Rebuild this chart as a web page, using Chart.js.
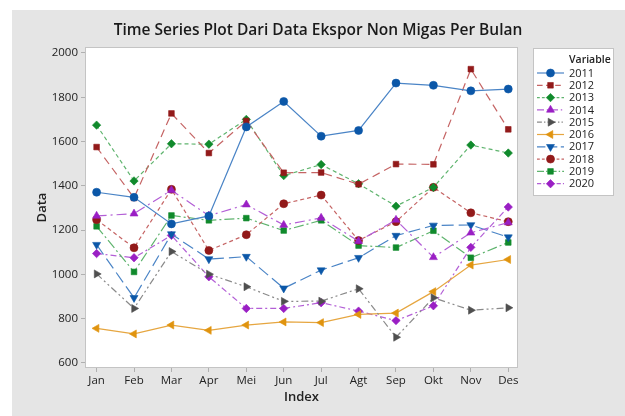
<!DOCTYPE html>
<html>
<head>
<meta charset="utf-8">
<script src="https://cdn.jsdelivr.net/npm/chart.js@4"></script>
<style>
html,body{margin:0;padding:0;background:#ffffff;}
#wrap{position:absolute;left:0;top:0;width:625px;height:416px;}
</style>
</head>
<body>
<div id="wrap"><canvas id="c" width="625" height="416"></canvas></div>
<script>
const months = ['Jan','Feb','Mar','Apr','Mei','Jun','Jul','Agt','Sep','Okt','Nov','Des'];
const yTicks = [600, 800, 1000, 1200, 1400, 1600, 1800, 2000];
const seriesNames = ['2011','2012','2013','2014','2015','2016','2017','2018','2019','2020'];
const titleText = 'Time Series Plot Dari Data Ekspor Non Migas Per Bulan';

const v2011 = [1371, 1348, 1228, 1264, 1666, 1781, 1624, 1650, 1864, 1854, 1829, 1837];
const v2012 = [1575, 1345, 1727, 1548, 1693, 1459, 1460, 1407, 1498, 1497, 1927, 1655];
const v2013 = [1674, 1422, 1590, 1588, 1700, 1446, 1496, 1409, 1308, 1393, 1584, 1548];
const v2014 = [1264, 1274, 1380, 1265, 1315, 1223, 1255, 1150, 1246, 1077, 1188, 1234];
const v2015 = [1002, 846, 1103, 1001, 944, 878, 879, 935, 716, 894, 838, 849];
const v2016 = [756, 731, 771, 747, 771, 785, 782, 819, 825, 922, 1042, 1067];
const v2017 = [1134, 894, 1182, 1069, 1080, 937, 1019, 1075, 1175, 1221, 1223, 1168];
const v2018 = [1247, 1120, 1384, 1108, 1179, 1319, 1358, 1153, 1238, 1393, 1278, 1238];
const v2019 = [1217, 1011, 1266, 1244, 1254, 1198, 1244, 1130, 1121, 1197, 1075, 1144];
const v2020 = [1094, 1075, 1176, 989, 846, 846, 872, 834, 791, 858, 1122, 1304];

const allValues = [v2011, v2012, v2013, v2014, v2015, v2016, v2017, v2018, v2019, v2020];

const styles = [
  {c:'#0b57a8', l:'#4a84c6', ps:'circle', rot:0, r:4, dash:[]},
  {c:'#921a1a', l:'#c56464', ps:'rect', rot:0, r:4, dash:[8,5]},
  {c:'#108a2c', l:'#5fb46e', ps:'rectRot', rot:0, r:4.2, dash:[4,3]},
  {c:'#9a1fc4', l:'#b35fd6', ps:'triangle', rot:0, r:4.6, dash:[10,4,2,4]},
  {c:'#4f4f4f', l:'#8a8a8a', ps:'triangle', rot:90, r:4.6, dash:[7,3,2,3,2,3]},
  {c:'#e0940f', l:'#e6a640', ps:'triangle', rot:-90, r:4.6, dash:[]},
  {c:'#0b57a8', l:'#4a84c6', ps:'triangle', rot:180, r:4.6, dash:[12,5]},
  {c:'#921a1a', l:'#c56464', ps:'circle', rot:0, r:4, dash:[4,3]},
  {c:'#108a2c', l:'#5fb46e', ps:'rect', rot:0, r:4, dash:[10,3,2,3]},
  {c:'#9a1fc4', l:'#b35fd6', ps:'rectRot', rot:0, r:4.2, dash:[6,3,2,3]}
];

const datasets = seriesNames.map((name, i) => ({
  label: name,
  data: allValues[i].map((v, k) => ({x: k, y: v})),
  borderColor: styles[i].l,
  backgroundColor: styles[i].c,
  borderWidth: 1.2,
  borderDash: styles[i].dash,
  pointStyle: styles[i].ps,
  pointRotation: styles[i].rot,
  pointRadius: styles[i].r,
  pointBorderWidth: 0.6,
  pointBorderColor: styles[i].c,
  pointBackgroundColor: styles[i].c,
  tension: 0,
  fill: false
}));

const bgPlugin = {
  id: 'bg',
  beforeDraw(chart) {
    const ctx = chart.ctx, a = chart.chartArea;
    ctx.save();
    ctx.fillStyle = '#ffffff';
    ctx.fillRect(0, 0, chart.width, chart.height);
    ctx.fillStyle = '#e5e5e5';
    ctx.fillRect(12, 10, chart.width - 12, chart.height - 10);
    ctx.fillStyle = '#ffffff';
    ctx.fillRect(a.left, a.top, a.right - a.left, a.bottom - a.top);
    ctx.fillStyle = '#1a1a1a';
    ctx.font = '600 15.5px "Open Sans", sans-serif';
    ctx.textAlign = 'center';
    ctx.textBaseline = 'middle';
    ctx.fillText(titleText, 318, 31);
    ctx.restore();
  },
  afterDatasetsDraw(chart) {
    const ctx = chart.ctx, a = chart.chartArea;
    ctx.save();
    ctx.strokeStyle = '#c4c4c4';
    ctx.lineWidth = 1;
    ctx.strokeRect(a.left + 0.5, a.top + 0.5, a.right - a.left - 1, a.bottom - a.top - 1);
    ctx.restore();
  }
};

const legendPlugin = {
  id: 'customLegend',
  afterDraw(chart) {
    const ctx = chart.ctx;
    const x0 = 533, y0 = 48, w = 81, h = 148;
    ctx.save();
    ctx.fillStyle = '#ffffff';
    ctx.fillRect(x0, y0, w, h);
    ctx.strokeStyle = '#c4c4c4';
    ctx.lineWidth = 1;
    ctx.strokeRect(x0 + 0.5, y0 + 0.5, w - 1, h - 1);
    ctx.fillStyle = '#222222';
    ctx.font = '600 10.5px "Open Sans", sans-serif';
    ctx.textBaseline = 'middle';
    ctx.textAlign = 'left';
    ctx.fillText('Variable', 569, 60);
    ctx.font = '11px "Open Sans", sans-serif';
    seriesNames.forEach((name, i) => {
      const y = 73 + i * 12.3;
      const s = styles[i];
      ctx.strokeStyle = s.l;
      ctx.lineWidth = 1.2;
      ctx.setLineDash(s.dash.length ? s.dash.map(d => d * 0.7) : []);
      ctx.beginPath();
      ctx.moveTo(537, y);
      ctx.lineTo(564, y);
      ctx.stroke();
      ctx.setLineDash([]);
      ctx.fillStyle = s.c;
      ctx.strokeStyle = s.c;
      ctx.lineWidth = 0.6;
      Chart.helpers.drawPoint(ctx, {pointStyle: s.ps, rotation: s.rot, radius: s.r, borderWidth: 0.6}, 550.5, y);
      ctx.fillStyle = '#222222';
      ctx.fillText(name, 569, y + 0.5);
    });
    ctx.restore();
  }
};

new Chart(document.getElementById('c'), {
  type: 'line',
  data: { datasets },
  plugins: [bgPlugin, legendPlugin],
  options: {
    responsive: false,
    animation: false,
    devicePixelRatio: 1,
    layout: { padding: { left: 12, right: 107, top: 47, bottom: 7 } },
    plugins: {
      legend: { display: false },
      tooltip: { enabled: false },
      title: { display: false }
    },
    scales: {
      x: {
        type: 'linear',
        min: -0.31,
        max: 11.26,
        afterBuildTicks(axis) { axis.ticks = months.map((m, i) => ({ value: i })); },
        afterFit(scale) { scale.height = 41; },
        ticks: {
          callback: (v) => months[v] ?? '',
          color: '#222222',
          font: { family: '"Open Sans", sans-serif', size: 11.5 },
          padding: 2,
          maxRotation: 0,
          autoSkip: false
        },
        grid: { display: true, drawOnChartArea: false, drawTicks: true, tickLength: 4, color: '#b0b0b0' },
        border: { display: false },
        title: {
          display: true, text: 'Index', color: '#222222',
          font: { family: '"Open Sans", sans-serif', size: 13, weight: '600' },
          padding: { top: 2, bottom: 4 }
        }
      },
      y: {
        type: 'linear',
        min: 577,
        max: 2027,
        afterBuildTicks(axis) { axis.ticks = yTicks.map(v => ({ value: v })); },
        afterFit(scale) { scale.width = 73; },
        ticks: {
          callback: (v) => String(v),
          color: '#222222',
          font: { family: '"Open Sans", sans-serif', size: 11.5 },
          padding: 3
        },
        grid: { display: true, drawOnChartArea: false, drawTicks: true, tickLength: 4, color: '#b0b0b0' },
        border: { display: false },
        title: {
          display: true, text: 'Data', color: '#222222',
          font: { family: '"Open Sans", sans-serif', size: 13, weight: '600' },
          padding: { top: 22, bottom: 4 }
        }
      }
    }
  }
});
</script>
</body>
</html>
